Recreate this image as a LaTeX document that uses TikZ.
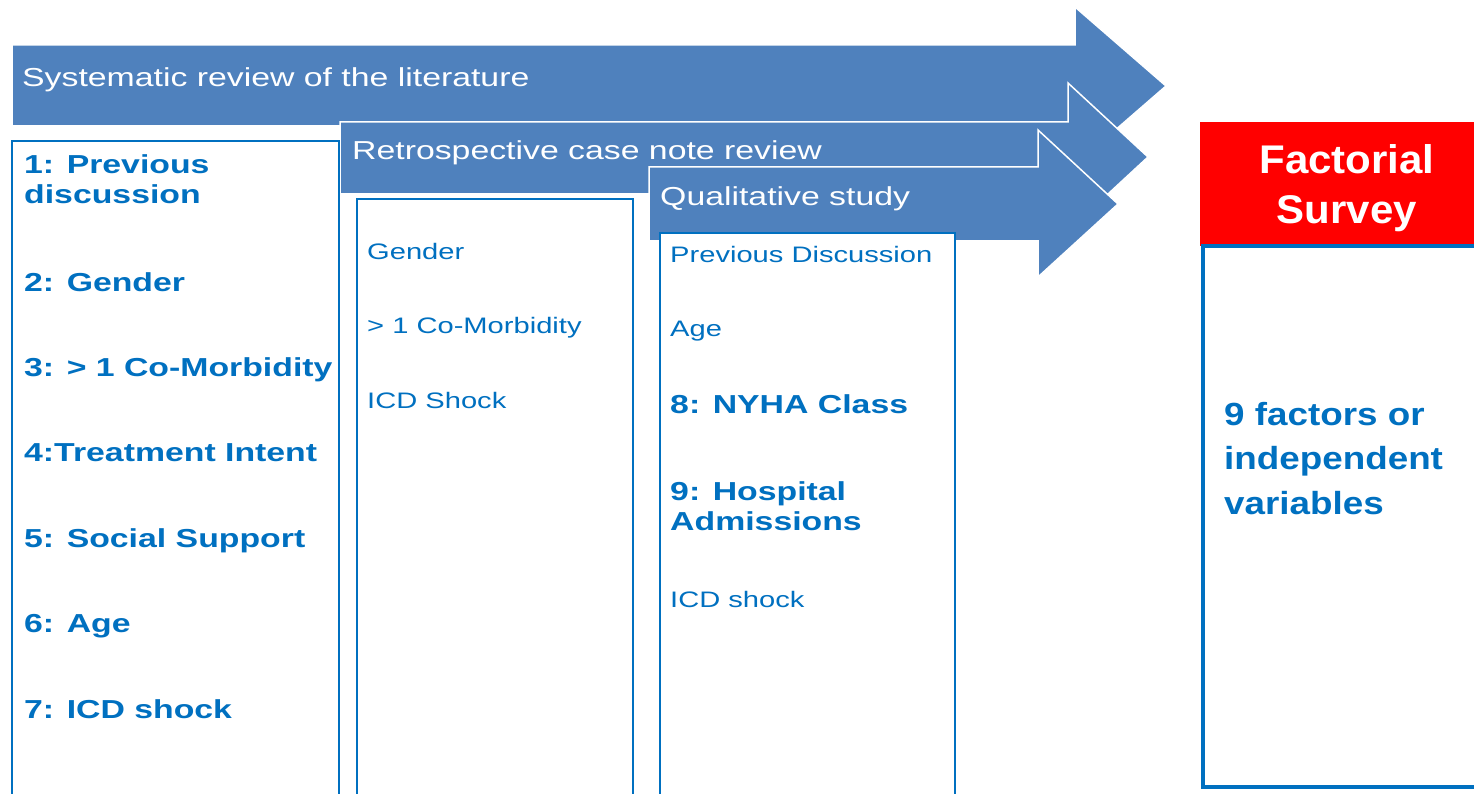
\documentclass[tikz,border=0pt]{standalone}
\usepackage{fontspec}
\setmainfont{Liberation Sans}[FakeStretch=1.3]
\newfontfamily\facfont{Liberation Sans}[FakeStretch=1.05]
\newfontfamily\ninefont{Liberation Sans}[FakeStretch=1.15]
\definecolor{arrowblue}{HTML}{4F81BD}
\definecolor{textblue}{HTML}{0070C0}
\definecolor{surveyred}{HTML}{FF0000}
\tikzset{
  bigarrow/.style={fill=arrowblue, draw=white, line width=1.5pt, line join=miter},
  listbox/.style={draw=textblue, fill=white, line width=2pt},
  arrowtext/.style={anchor=base west, inner sep=0pt, text=white, font=\fontsize{26}{30}\selectfont},
  itembold/.style={anchor=base west, inner sep=0pt, text=textblue, align=left, font=\fontsize{26}{30}\selectfont\bfseries},
  itemreg/.style={anchor=base west, inner sep=0pt, text=textblue, font=\fontsize{22.4}{26}\selectfont},
}
\begin{document}
\begin{tikzpicture}[x=1pt,y=-1pt]
\useasboundingbox (0,0) rectangle (1474,794);
\clip (0,0) rectangle (1474,794);
% arrows
\path[bigarrow] (12,45) -- (1075,45) -- (1075,7) -- (1166,86) -- (1075,165) -- (1075,126) -- (12,126) -- cycle;
\path[bigarrow] (340,122) -- (1068,122) -- (1068,83) -- (1148,157) -- (1068,231) -- (1068,194) -- (340,194) -- cycle;
\path[bigarrow] (649,167) -- (1038,167) -- (1038,130) -- (1118,204) -- (1038,277) -- (1038,241) -- (649,241) -- cycle;
\node[arrowtext] (t1) at (22,87) {Systematic review of the literature};
\node[arrowtext] (t2) at (352,160) {Retrospective case note review};
\node[arrowtext] (t3) at (660,206) {Qualitative study};
% boxes
\path[listbox] (12,141) rectangle (339,820);
\path[listbox] (357,199) rectangle (633,820);
\path[listbox] (660,233) rectangle (955,820);
\fill[surveyred] (1200,122) rectangle (1480,246);
\draw[textblue, line width=4pt] (1480,246) -- (1203,246) -- (1203,787) -- (1480,787);
% box 1
\node[itembold] (a1) at (24,204) {1: Previous\\discussion};
\node[itembold] (a2) at (24,291) {2: Gender};
\node[itembold] (a3) at (24,376) {3: > 1 Co-Morbidity};
\node[itembold] (a4) at (24,461) {4:Treatment Intent};
\node[itembold] (a5) at (24,547) {5: Social Support};
\node[itembold] (a6) at (24,632) {6: Age};
\node[itembold] (a7) at (24,718) {7: ICD shock};
% box 2
\node[itemreg] (b1) at (367,259) {Gender};
\node[itemreg] (b2) at (367,333) {> 1 Co-Morbidity};
\node[itemreg] (b3) at (367,408) {ICD Shock};
% box 3
\node[itemreg] (c1) at (670,262) {Previous Discussion};
\node[itemreg] (c2) at (670,336) {Age};
\node[itembold] (c3) at (670,413) {8: NYHA Class};
\node[itembold] (c4) at (670,530) {9: Hospital\\Admissions};
\node[itemreg] (c5) at (670,607) {ICD shock};
% survey
\node[anchor=base, inner sep=0pt, text=white, align=center, font=\facfont\fontsize{40}{50}\selectfont\bfseries] (fs) at (1347,224) {Factorial\\Survey};
\node[anchor=base west, inner sep=0pt, text=textblue, align=left, font=\ninefont\fontsize{32}{44.5}\selectfont\bfseries] (nf) at (1224,514) {9 factors or\\independent\\variables};
\end{tikzpicture}
\end{document}
